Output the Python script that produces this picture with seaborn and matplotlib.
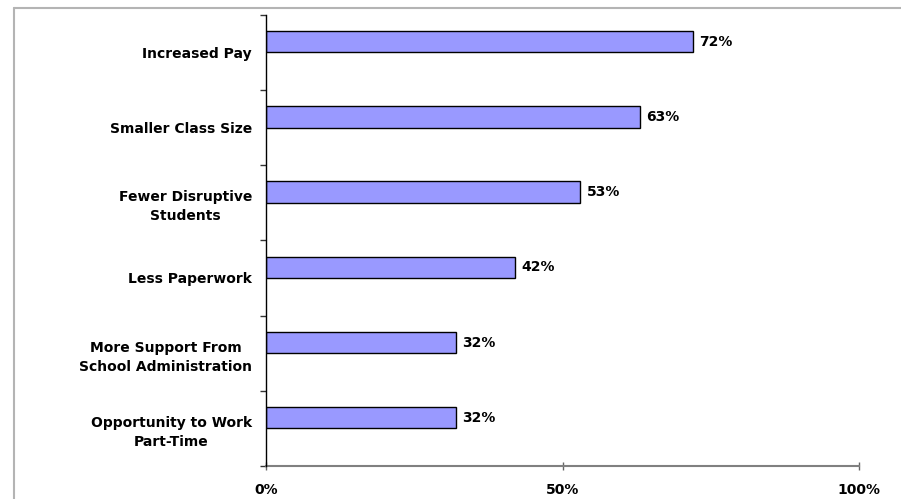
import matplotlib
matplotlib.use("Agg")
import matplotlib.pyplot as plt
from matplotlib.lines import Line2D
import numpy as np
import pandas as pd
import seaborn as sns

reasons = [
    "Increased Pay",
    "Smaller Class Size",
    "Fewer Disruptive\nStudents",
    "Less Paperwork",
    "More Support From\nSchool Administration",
    "Opportunity to Work\nPart-Time",
]
percents = [72, 63, 53, 42, 32, 32]
x_ticks = [0, 50, 100]
x_tick_labels = ["0%", "50%", "100%"]

series_name = "Teachers"
# an empty companion series keeps the bars in the upper part of each band
spacer_name = "spacer"
spacer_values = [0] * len(reasons)

df = pd.concat([
    pd.DataFrame({"Reason": reasons, "Percent": percents, "Series": series_name}),
    pd.DataFrame({"Reason": reasons, "Percent": spacer_values, "Series": spacer_name}),
], ignore_index=True)

sns.set_style("white")
plt.rcParams["font.family"] = ["DejaVu Sans"]
plt.rcParams["text.color"] = "black"
plt.rcParams["xtick.labelcolor"] = "black"
plt.rcParams["ytick.labelcolor"] = "black"

fig = plt.figure(figsize=(9.01, 4.99), dpi=100)
fig.patch.set_facecolor("white")
ax = fig.add_axes([266 / 901, 1 - 466 / 499, (859.3 - 266) / 901, (466 - 14.7) / 499])

sns.barplot(
    data=df, x="Percent", y="Reason", hue="Series",
    hue_order=[series_name, spacer_name],
    order=reasons, orient="h", width=0.567, saturation=1,
    palette={series_name: "#9999FF", spacer_name: "#9999FF"},
    edgecolor="black", linewidth=1, errorbar=None, legend=False, ax=ax,
)

# the spacer series only reserves room; it is not shown
for patch in ax.containers[1]:
    patch.set_visible(False)

ax.set_xlim(0, 100)
ax.set_ylim(len(reasons) - 0.5, -0.5)
ax.set_xlabel("")
ax.set_ylabel("")

# value labels at the bar ends
ax.bar_label(ax.containers[0], labels=[f"{v}%" for v in percents],
             padding=4.5, fontsize=10, fontweight="bold", color="black")

# category labels centred in each band, tick marks on band boundaries
ax.set_yticks(np.arange(len(reasons) + 1) - 0.5)
ax.set_yticklabels([])
ax.set_yticks(np.arange(len(reasons)), minor=True)
ax.set_yticklabels(reasons, minor=True, fontsize=10, fontweight="bold",
                   multialignment="center", linespacing=1.45, color="black")
ax.tick_params(axis="y", which="major", direction="out", length=4.5,
               width=1, color="#333333", left=True)
ax.tick_params(axis="y", which="minor", length=0, pad=10)

ax.set_xticks(x_ticks)
ax.set_xticklabels(x_tick_labels, fontsize=10, fontweight="bold", color="black")
ax.tick_params(axis="x", direction="inout", length=6, width=1,
               color="#666666", pad=9, bottom=True)

for side in ["top", "right"]:
    ax.spines[side].set_visible(False)
ax.spines["left"].set_color("black")
ax.spines["left"].set_linewidth(1)
ax.spines["left"].set_zorder(5)
ax.spines["bottom"].set_color("#808080")
ax.spines["bottom"].set_linewidth(1.5)
ax.grid(False)

# outer frame of the chart area
frame_x = 14.3 / 901
frame_y = 1 - 7.7 / 499
fig.add_artist(Line2D([frame_x, 1.0], [frame_y, frame_y], transform=fig.transFigure,
                      color="#B4B4B4", linewidth=1.5))
fig.add_artist(Line2D([frame_x, frame_x], [0.0, frame_y], transform=fig.transFigure,
                      color="#B4B4B4", linewidth=1.5))

fig.savefig("out.png", dpi=100, facecolor="white")
